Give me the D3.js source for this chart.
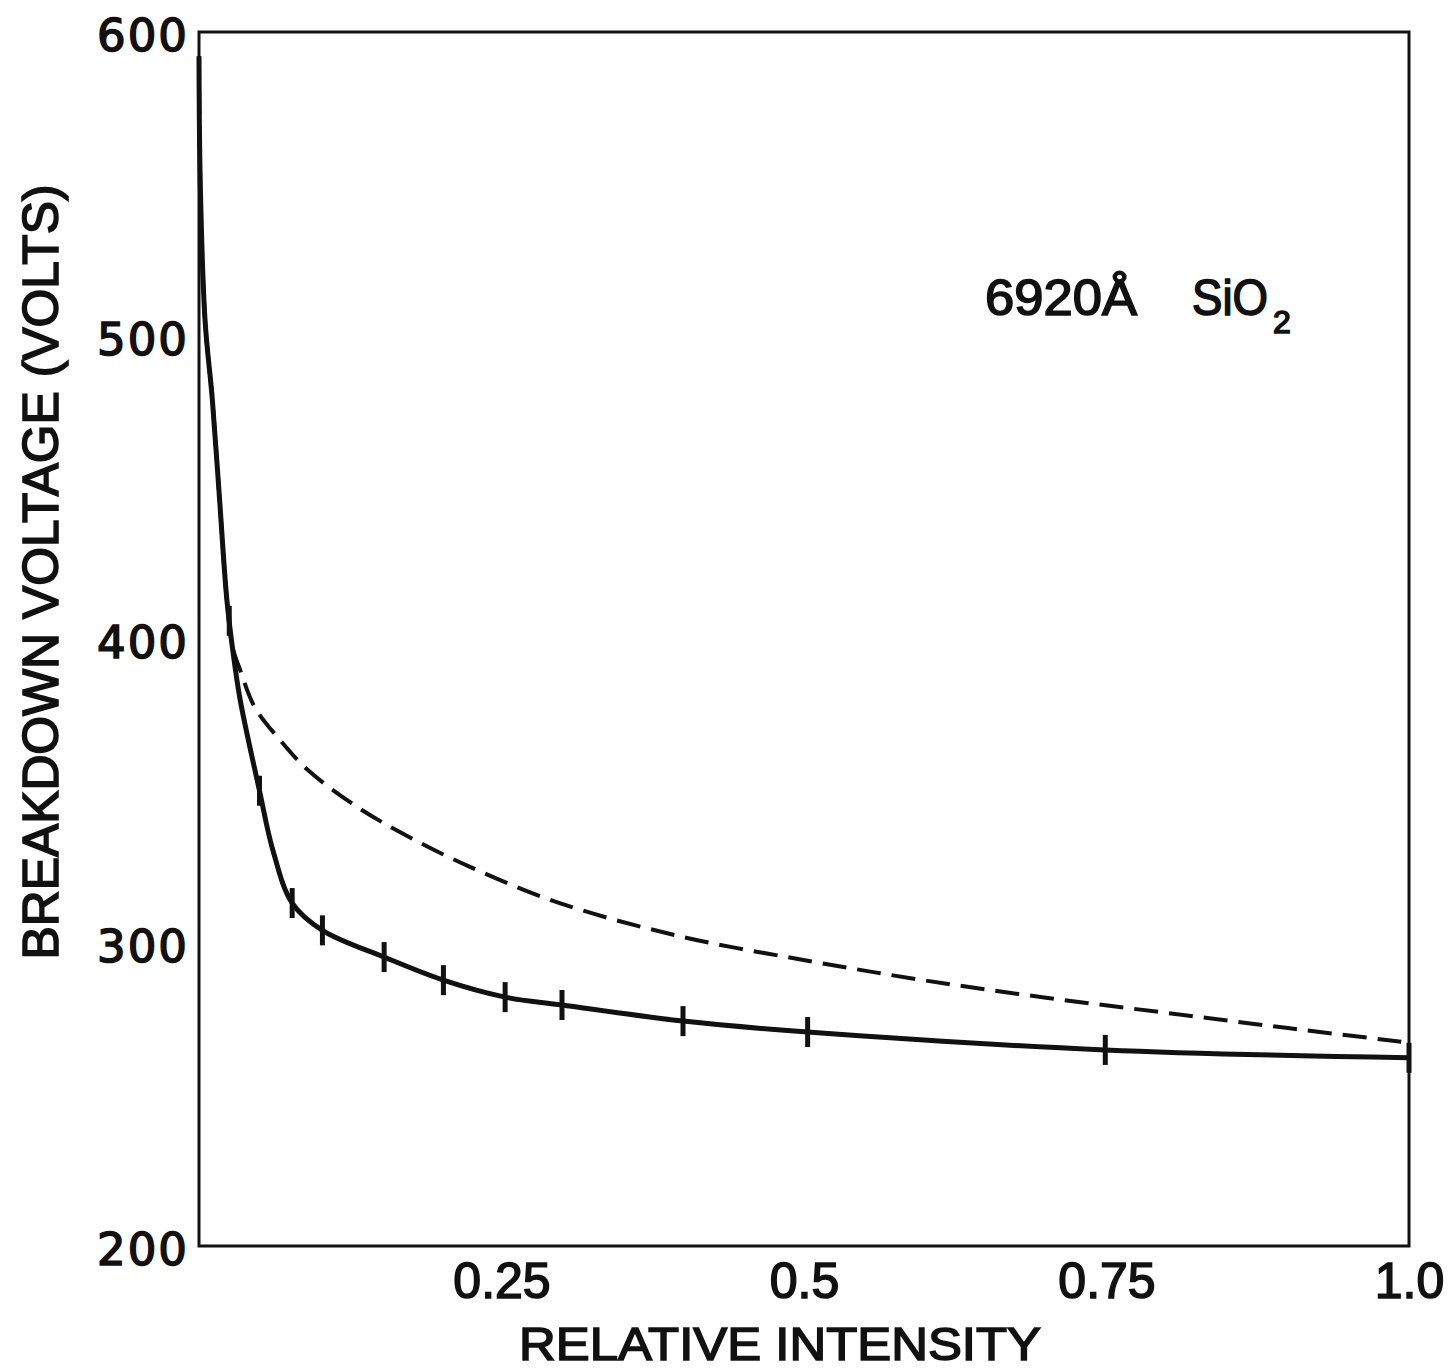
<!DOCTYPE html>
<html>
<head>
<meta charset="utf-8">
<script src="https://cdn.jsdelivr.net/npm/d3@7"></script>
<style>
  body { margin: 0; background: #fff; }
  svg { display: block; }
  text { font-family: "Liberation Sans", Arial, sans-serif; fill: #111; stroke: #111; stroke-width: 1.6px; }
</style>
</head>
<body>
<svg></svg>
<script>
const width = 1450, height = 1370;
const margin = {top: 32, right: 41, bottom: 124, left: 199};

// solid curve (measured breakdown voltage)
const solidX = [0, 0.001, 0.005, 0.011, 0.017, 0.023, 0.028, 0.034, 0.05, 0.061, 0.077, 0.102, 0.153, 0.202, 0.253, 0.30, 0.40, 0.503, 0.749, 1.0];
const solidV = [592, 551, 505, 479, 446, 413, 396, 380, 350, 330.5, 313, 304, 295.2, 287.6, 282, 279.4, 274.1, 270.5, 264.6, 262];

// tick marks sitting on the solid curve
const markX = [0.025, 0.05, 0.077, 0.102, 0.153, 0.202, 0.253, 0.30, 0.40, 0.503, 0.749, 1.0];
const markV = [406, 350, 313, 304, 295.2, 287.6, 282, 279.4, 274.1, 270.5, 264.6, 262];

// dashed curve
const dashX = [0, 0.001, 0.005, 0.011, 0.017, 0.023, 0.028, 0.034, 0.046, 0.067, 0.090, 0.131, 0.174, 0.224, 0.298, 0.398, 0.503, 0.6, 0.7, 0.8, 0.9, 1.0];
const dashV = [592, 551, 505, 479, 446, 413, 397, 389.8, 377.6, 366.7, 356.8, 344.6, 334.7, 324.9, 313, 302, 294, 287.5, 281.8, 276.8, 271.8, 267];

const xTicks = [0.25, 0.5, 0.75, 1.0];
const xTickLabels = ["0.25", "0.5", "0.75", "1.0"];
const yTicks = [200, 300, 400, 500, 600];

const svg = d3.select('svg')
    .attr('width', width)
    .attr('height', height);

const x = d3.scaleLinear().domain([0, 1]).range([margin.left, width - margin.right]);
const y = d3.scaleLinear().domain([200, 600]).range([height - margin.bottom, margin.top]);

// frame
svg.append('rect')
    .attr('x', x(0)).attr('y', y(600))
    .attr('width', x(1) - x(0)).attr('height', y(200) - y(600))
    .attr('fill', 'none').attr('stroke', '#111').attr('stroke-width', 3);

// y axis labels
const yAxis = svg.append('g')
    .attr('transform', `translate(${x(0)},0)`)
    .call(d3.axisLeft(y).tickValues(yTicks).tickSize(0).tickPadding(10).tickFormat(d3.format('d')));
yAxis.select('.domain').remove();
yAxis.selectAll('text')
    .attr('dy', '0.42em')
    .style('font-family', '"DejaVu Sans", sans-serif')
    .style('font-size', '45px')
    .style('letter-spacing', '2px')
    .style('fill', '#111');

// x axis labels
const xAxis = svg.append('g')
    .attr('transform', `translate(0,${y(200)})`)
    .call(d3.axisBottom(x).tickValues(xTicks).tickSize(0).tickPadding(16)
        .tickFormat((d, i) => xTickLabels[i]));
xAxis.select('.domain').remove();
xAxis.selectAll('text')
    .attr('dy', '0.71em')
    .style('font-family', '"Liberation Sans Narrow", "Liberation Sans", sans-serif')
    .style('font-size', '50px')
    .style('fill', '#111');

// axis titles
svg.append('text')
    .attr('x', 780).attr('y', 1360)
    .attr('text-anchor', 'middle')
    .attr('textLength', 522).attr('lengthAdjust', 'spacingAndGlyphs')
    .style('font-size', '47px')
    .text('RELATIVE INTENSITY');

svg.append('text')
    .attr('transform', 'translate(58,572) rotate(-90)')
    .attr('text-anchor', 'middle')
    .attr('textLength', 775).attr('lengthAdjust', 'spacingAndGlyphs')
    .style('font-size', '50px')
    .text('BREAKDOWN VOLTAGE (VOLTS)');

// curves
const solidData = solidX.map((d, i) => ({x: d, v: solidV[i]}));
const dashData = dashX.map((d, i) => ({x: d, v: dashV[i]}));
const markData = markX.map((d, i) => ({x: d, v: markV[i]}));

const line = d3.line()
    .x(d => x(d.x))
    .y(d => y(d.v))
    .curve(d3.curveCatmullRom.alpha(0.5));

svg.append('path')
    .datum(dashData)
    .attr('d', line)
    .attr('fill', 'none')
    .attr('stroke', '#111')
    .attr('stroke-width', 4)
    .attr('stroke-dasharray', '24 11');

svg.append('path')
    .datum(solidData)
    .attr('d', line)
    .attr('fill', 'none')
    .attr('stroke', '#111')
    .attr('stroke-width', 5);

svg.selectAll('.mark')
    .data(markData)
    .enter().append('line')
    .attr('class', 'mark')
    .attr('x1', d => x(d.x)).attr('x2', d => x(d.x))
    .attr('y1', d => y(d.v) - 15).attr('y2', d => y(d.v) + 15)
    .attr('stroke', '#111')
    .attr('stroke-width', 5);

// annotation
const note = svg.append('text')
    .attr('x', 985).attr('y', 315)
    .style('font-size', '50px');
note.append('tspan').attr('textLength', 152).attr('lengthAdjust', 'spacingAndGlyphs').text('6920Å');
note.append('tspan').attr('x', 1192).attr('textLength', 76).attr('lengthAdjust', 'spacingAndGlyphs').text('SiO');
note.append('tspan').attr('x', 1273).attr('dy', 18).style('font-size', '32px').text('2');
</script>
</body>
</html>
